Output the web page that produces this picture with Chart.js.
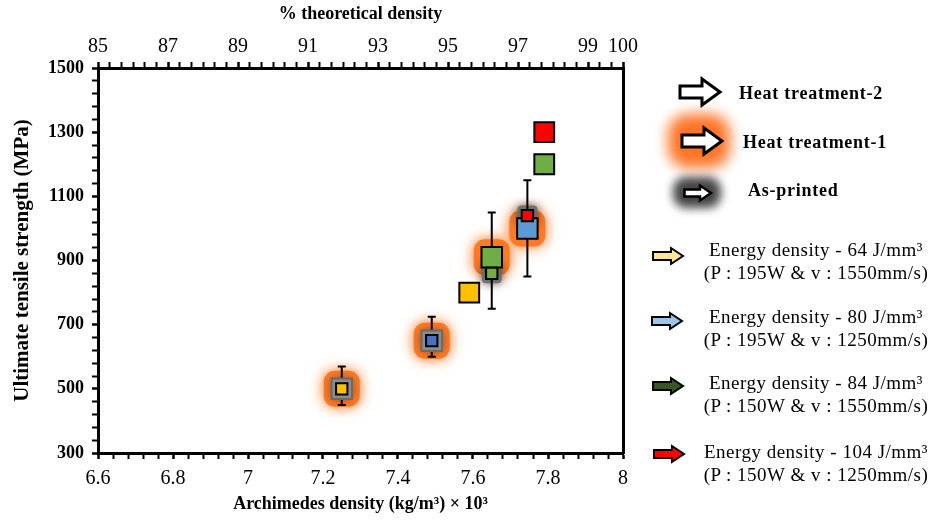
<!DOCTYPE html>
<html>
<head>
<meta charset="utf-8">
<script src="https://cdn.jsdelivr.net/npm/chart.js@4.4.0/dist/chart.umd.min.js"></script>
<style>
  body { margin: 0; background: #fff; }
  #wrap { position: relative; width: 932px; height: 521px; overflow: hidden; }
  #chart { position: absolute; left: 0; top: 0; }
  .lg { position: absolute; font-family: "Liberation Serif", "Times New Roman", serif; color: #000; white-space: nowrap; }
  .ht { font-weight: bold; font-size: 18px; line-height: 22px; letter-spacing: 0.75px; }
  .ed { font-size: 19px; line-height: 23px; letter-spacing: 0.5px; text-align: center; width: 232px; left: 700px; }
  .glow { position: absolute; }
  svg { position: absolute; overflow: visible; }
</style>
</head>
<body>
<div id="wrap">
  <canvas id="chart" width="932" height="521"></canvas>

  <div class="glow" style="left:668px;top:114px;width:62px;height:54px;background:#ff7426;border-radius:20px;filter:blur(7px);"></div>
  <div class="glow" style="left:673px;top:177px;width:48px;height:31px;background:#454545;border-radius:13px;filter:blur(5px);"></div>

  <svg style="left:678px;top:77px" width="44" height="30"><polygon points="2,9 24,9 24,2 42,15 24,28 24,21 2,21" fill="#fff" stroke="#000" stroke-width="3"/></svg>
  <div class="lg ht" style="left:739px;top:82px">Heat treatment-2</div>

  <svg style="left:680px;top:126px" width="44" height="30"><polygon points="2,9 24,9 24,2 42,15 24,28 24,21 2,21" fill="#fff" stroke="#000" stroke-width="3"/></svg>
  <div class="lg ht" style="left:743px;top:131px">Heat treatment-1</div>

  <svg style="left:683px;top:184px" width="30" height="18"><polygon points="1.5,5.5 17,5.5 17,1.5 28,9 17,16.5 17,12.5 1.5,12.5" fill="#fff" stroke="#000" stroke-width="2.5"/></svg>
  <div class="lg ht" style="left:748px;top:179px">As-printed</div>

  <svg style="left:652px;top:247px" width="32" height="18"><polygon points="1,5 19,5 19,1 31,9 19,17 19,13 1,13" fill="#ffe699" stroke="#000" stroke-width="2"/></svg>
  <div class="lg ed" style="top:238px">Energy density - 64 J/mm³<br>(P : 195W &amp; v : 1550mm/s)</div>

  <svg style="left:651px;top:312px" width="32" height="18"><polygon points="1,5 19,5 19,1 31,9 19,17 19,13 1,13" fill="#9dc3e6" stroke="#000" stroke-width="2"/></svg>
  <div class="lg ed" style="top:305px">Energy density - 80 J/mm³<br>(P : 195W &amp; v : 1250mm/s)</div>

  <svg style="left:652px;top:377px" width="32" height="18"><polygon points="1,5 19,5 19,1 31,9 19,17 19,13 1,13" fill="#375623" stroke="#000" stroke-width="2"/></svg>
  <div class="lg ed" style="top:371px">Energy density - 84 J/mm³<br>(P : 150W &amp; v : 1550mm/s)</div>

  <svg style="left:653px;top:445px" width="32" height="18"><polygon points="1,5 19,5 19,1 31,9 19,17 19,13 1,13" fill="#ff0000" stroke="#000" stroke-width="2"/></svg>
  <div class="lg ed" style="top:440px">Energy density - 104 J/mm³<br>(P : 150W &amp; v : 1250mm/s)</div>
</div>

<script>
// values
const asPrintedX = [7.25, 7.49, 7.65, 7.745];
const asPrintedY = [500, 650, 860, 1040];

const ht1X = [7.25, 7.49, 7.65, 7.745];
const ht1Y = [500, 650, 910, 1000];
const ht1ErrUp = [70, 75, 140, 150];
const ht1ErrDown = [50, 50, 160, 150];

const ht2X = [7.59, 7.79, 7.79];
const ht2Y = [800, 1200, 1300];

const xTickLabels = [6.6, 6.8, 7, 7.2, 7.4, 7.6, 7.8, 8];
const topTickLabels = [85, 87, 89, 91, 93, 95, 97, 99, 100];
const yTickLabels = [300, 500, 700, 900, 1100, 1300, 1500];

// marker colours (energy density)
const asPrintedColors = ['#ffc000', '#4472c4', '#70ad47', '#ff0000'];
const ht1Colors = ['#8c8c8c', '#8c8c8c', '#70ad47', '#5b9bd5'];
const ht1Borders = ['#6a6a6a', '#6a6a6a', '#000', '#000'];
const ht2Colors = ['#ffc000', '#70ad47', '#ff0000'];

const serif = '"Liberation Serif", "Times New Roman", serif';

function pts(xs, ys) {
  return xs.map((x, i) => ({ x: x, y: ys[i] }));
}

// tick positions with unlabeled minor ticks in between
function tickValues(min, max, step) {
  const out = [];
  const n = Math.round((max - min) / step);
  for (let i = 0; i <= n; i++) out.push({ value: min + i * step });
  return out;
}
function isMajor(v, labels) {
  return labels.some(l => Math.abs(l - v) < 1e-6);
}
function labelFor(v, labels) {
  const l = labels.find(l => Math.abs(l - v) < 1e-6);
  return l === undefined ? '' : String(l);
}

function roundRect(ctx, x, y, w, h, r) {
  ctx.beginPath();
  ctx.moveTo(x + r, y);
  ctx.arcTo(x + w, y, x + w, y + h, r);
  ctx.arcTo(x + w, y + h, x, y + h, r);
  ctx.arcTo(x, y + h, x, y, r);
  ctx.arcTo(x, y, x + w, y, r);
  ctx.closePath();
  ctx.fill();
}

// glows + error bars drawn under the markers
const glowPlugin = {
  id: 'glow',
  beforeDatasetsDraw(chart) {
    const ctx = chart.ctx;
    const yScale = chart.scales.y;
    const ht1 = chart.getDatasetMeta(1).data;
    const ap = chart.getDatasetMeta(0).data;

    ctx.save();
    ctx.shadowColor = '#ff6a10';
    ctx.shadowBlur = 14;
    ctx.fillStyle = '#ff7a26';
    ht1.forEach(p => roundRect(ctx, p.x - 18, p.y - 18, 36, 36, 11));
    ctx.restore();

    ctx.save();
    ctx.shadowColor = 'rgba(50,50,50,0.9)';
    ctx.shadowBlur = 10;
    ctx.fillStyle = 'rgba(105,105,105,0.85)';
    ap.forEach(p => roundRect(ctx, p.x - 10, p.y - 10, 20, 20, 4));
    ctx.restore();

    ctx.save();
    ctx.strokeStyle = '#000';
    ctx.lineWidth = 2;
    ht1.forEach((p, i) => {
      const top = yScale.getPixelForValue(ht1Y[i] + ht1ErrUp[i]);
      const bot = yScale.getPixelForValue(ht1Y[i] - ht1ErrDown[i]);
      ctx.beginPath();
      ctx.moveTo(p.x, top); ctx.lineTo(p.x, bot);
      ctx.moveTo(p.x - 4, top); ctx.lineTo(p.x + 4, top);
      ctx.moveTo(p.x - 4, bot); ctx.lineTo(p.x + 4, bot);
      ctx.stroke();
    });
    ctx.restore();
  }
};

const tickGrid = labels => ({
  drawOnChartArea: false,
  drawTicks: true,
  tickLength: 6,
  color: '#000',
  tickWidth: c => (c.tick && isMajor(c.tick.value, labels) ? 2.5 : 2)
});

const config = {
  type: 'scatter',
  data: {
    datasets: [{
      label: 'As-printed',
      data: pts(asPrintedX, asPrintedY),
      pointStyle: 'rect',
      pointRadius: 8,
      pointHoverRadius: 8,
      backgroundColor: asPrintedColors,
      borderColor: '#000',
      borderWidth: 2,
      order: 1
    }, {
      label: 'Heat treatment-1',
      data: pts(ht1X, ht1Y),
      pointStyle: 'rect',
      pointRadius: 14.5,
      pointHoverRadius: 14.5,
      backgroundColor: ht1Colors,
      borderColor: ht1Borders,
      borderWidth: 2,
      order: 2
    }, {
      label: 'Heat treatment-2',
      data: pts(ht2X, ht2Y),
      pointStyle: 'rect',
      pointRadius: 14,
      pointHoverRadius: 14,
      backgroundColor: ht2Colors,
      borderColor: '#000',
      borderWidth: 2,
      order: 0
    }]
  },
  options: {
    responsive: false,
    animation: false,
    layout: { padding: { left: 0, right: 309, top: 0, bottom: 0 } },
    plugins: { legend: { display: false }, tooltip: { enabled: false } },
    scales: {
      x: {
        type: 'linear', position: 'bottom', min: 6.6, max: 8,
        afterBuildTicks: s => { s.ticks = tickValues(6.6, 8, 0.04); },
        afterFit: s => { s.height = 68; },
        ticks: {
          autoSkip: false, maxRotation: 0, padding: 8, color: '#000',
          font: { family: serif, size: 20 },
          callback: v => labelFor(v, xTickLabels)
        },
        grid: tickGrid(xTickLabels),
        border: { color: '#000', width: 3 },
        title: {
          display: true, text: 'Archimedes density (kg/m³) × 10³', color: '#000',
          font: { family: serif, size: 18, weight: 'bold' },
          padding: { top: 0, bottom: 6 }
        }
      },
      x2: {
        type: 'linear', position: 'top', min: 85, max: 100,
        afterBuildTicks: s => { s.ticks = tickValues(85, 100, 1 / 3); },
        afterFit: s => { s.height = 68; },
        ticks: {
          autoSkip: false, maxRotation: 0, padding: 3, color: '#000',
          font: { family: serif, size: 20 },
          callback: v => labelFor(v, topTickLabels)
        },
        grid: tickGrid(topTickLabels),
        border: { color: '#000', width: 3 },
        title: {
          display: true, text: '% theoretical density', color: '#000',
          font: { family: serif, size: 18, weight: 'bold' },
          padding: { top: 4, bottom: 0 }
        }
      },
      y: {
        type: 'linear', position: 'left', min: 300, max: 1500,
        afterBuildTicks: s => { s.ticks = tickValues(300, 1500, 40); },
        afterFit: s => { s.width = 98; },
        ticks: {
          autoSkip: false, padding: 8, color: '#000',
          font: { family: serif, size: 18, weight: 'bold' },
          callback: v => labelFor(v, yTickLabels)
        },
        grid: tickGrid(yTickLabels),
        border: { color: '#000', width: 3 },
        title: {
          display: true, text: 'Ultimate tensile strength (MPa)', color: '#000',
          font: { family: serif, size: 21, weight: 'bold' },
          padding: { top: 10, bottom: 0 }
        }
      },
      y2: {
        type: 'linear', position: 'right', min: 300, max: 1500,
        afterFit: s => { s.width = 0; },
        ticks: { display: false },
        grid: { drawOnChartArea: false, drawTicks: false },
        border: { color: '#000', width: 3 }
      }
    }
  },
  plugins: [glowPlugin]
};

new Chart(document.getElementById('chart').getContext('2d'), config);
</script>
</body>
</html>
